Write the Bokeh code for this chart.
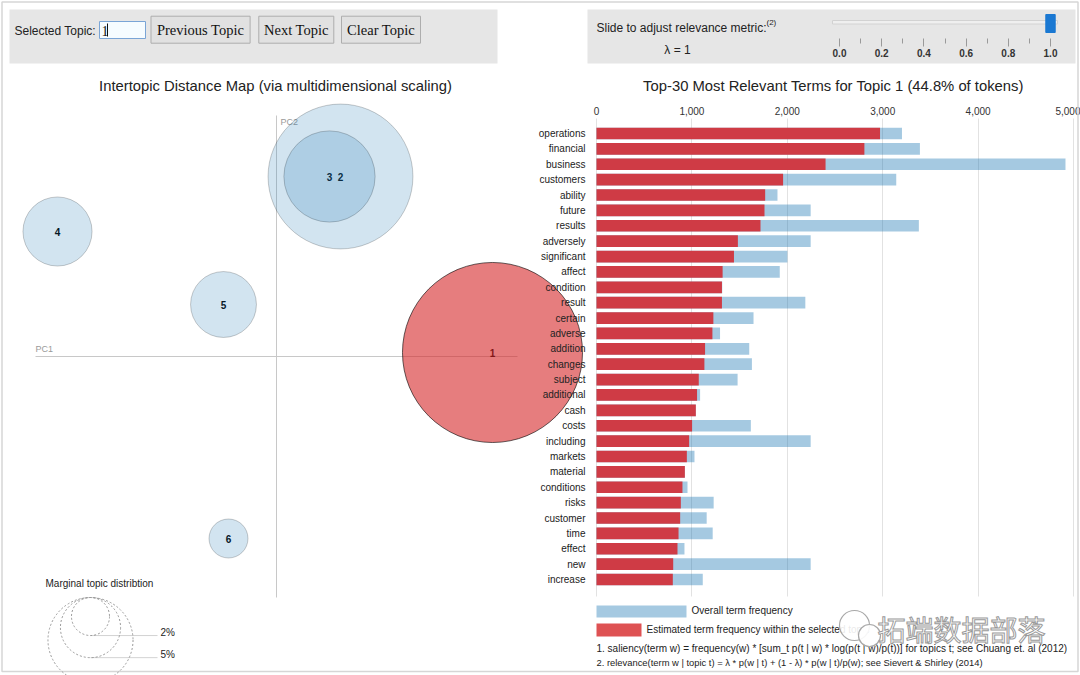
import math
from bokeh.plotting import figure
from bokeh.models import Range1d, LinearAxis, FixedTicker, NumeralTickFormatter
from bokeh.core.properties import value
from bokeh.embed import file_html
from bokeh.resources import INLINE

# ---------------- data ----------------
topic_ids = [1, 2, 3, 4, 5, 6]
topic_pc1 = [0.216, 0.064, 0.053, -0.219, -0.053, -0.048]
topic_pc2 = [0.004, 0.180, 0.180, 0.125, 0.052, -0.182]
topic_pct = [44.8, 29.0, 11.5, 6.6, 6.0, 2.1]          # marginal topic distribution (% of tokens)
selected_topic = 1
lambda_value = 1.0

terms = ["operations", "financial", "business", "customers", "ability", "future",
         "results", "adversely", "significant", "affect", "condition", "result",
         "certain", "adverse", "addition", "changes", "subject", "additional",
         "cash", "costs", "including", "markets", "material", "conditions",
         "risks", "customer", "time", "effect", "new", "increase"]
topic_term_freq = [2972, 2808, 2401, 1956, 1768, 1761, 1719, 1482, 1441, 1322,
                   1315, 1315, 1225, 1215, 1138, 1131, 1072, 1054, 1041, 1002,
                   971, 947, 926, 901, 884, 877, 860, 849, 804, 800]
overall_term_freq = [3202, 3390, 4916, 3142, 1897, 2245, 3379, 2245, 2001, 1921,
                     1318, 2189, 1646, 1295, 1601, 1629, 1479, 1086, 1041, 1618,
                     2245, 1027, 926, 954, 1228, 1155, 1218, 922, 2245, 1114]
freq_ticks = [0, 1000, 2000, 3000, 4000, 5000]
lambda_ticks = [0.0, 0.2, 0.4, 0.6, 0.8, 1.0]
lambda_minor_ticks = [0.1, 0.3, 0.5, 0.7, 0.9]
marginal_pcts = [2, 5, 10]

button_labels = ["Previous Topic", "Next Topic", "Clear Topic"]
footnotes = [
    "1. saliency(term w) = frequency(w) * [sum_t p(t | w) * log(p(t | w)/p(t))] for topics t; see Chuang et. al (2012)",
    "2. relevance(term w | topic t) = \u03bb * p(w | t) + (1 - \u03bb) * p(w | t)/p(w); see Sievert & Shirley (2014)",
]

# ---------------- layout constants ----------------
W, H = 1080, 675
SANS = value("Liberation Sans")
SERIF = value("Liberation Serif")

PX_PER_PC = 1000.0
ORIGIN_X, ORIGIN_Y = 276, 356          # page px of the PC origin
R_PER_SQRT_PCT = 0.01345               # circle radius scale (PC units per sqrt(%))
AXIS_HALF = 0.241

BAR_ZERO_PX = 596
BAR_PX_PER_UNIT = 0.0954
BAR_ROW1_PX = 133
BAR_STEP_PX = 15.38
BAR_HEIGHT = 0.76

LAM_ZERO_PX = 839
LAM_PX_PER_UNIT = 211.0

BLUE = "#1f77b4"
RED = "#d62728"

p = figure(width=W, height=H, output_backend="svg", toolbar_location=None,
           x_axis_location=None, y_axis_location=None,
           x_range=Range1d(-ORIGIN_X / PX_PER_PC, (W - ORIGIN_X) / PX_PER_PC),
           y_range=Range1d(-(H - ORIGIN_Y) / PX_PER_PC, ORIGIN_Y / PX_PER_PC),
           min_border=0, outline_line_color=None,
           background_fill_color="white", border_fill_color="white")
p.xgrid.visible = False
p.ygrid.visible = False

p.extra_x_ranges = {
    "page": Range1d(0, W),
    "bx": Range1d(-BAR_ZERO_PX / BAR_PX_PER_UNIT, (W - BAR_ZERO_PX) / BAR_PX_PER_UNIT),
    "lam": Range1d(-LAM_ZERO_PX / LAM_PX_PER_UNIT, (W - LAM_ZERO_PX) / LAM_PX_PER_UNIT),
}
p.extra_y_ranges = {
    "page": Range1d(H, 0),
    "by": Range1d(1 + (H - BAR_ROW1_PX) / BAR_STEP_PX, 1 - BAR_ROW1_PX / BAR_STEP_PX),
}
PAGE = dict(x_range_name="page", y_range_name="page")


def page_text(x, y, text, size, color="#222", font=SANS, align="left",
              baseline="middle", style="normal"):
    p.text(x=[x], y=[y], text=[text], text_font=font, text_font_size=size,
           text_color=color, text_align=align, text_baseline=baseline,
           text_font_style=style, **PAGE)


# ---------------- window frame + top control panels ----------------
p.quad(left=[1.5], right=[1077.5], top=[1.5], bottom=[671], fill_color=None,
       line_color="#d6d6d6", line_width=1.5, **PAGE)
p.quad(left=[9, 587], right=[497, 1075], top=[9, 9], bottom=[63, 63],
       fill_color="#e6e6e6", line_color=None, **PAGE)
page_text(14, 30, "Selected Topic:", "12px", color="#222")
p.quad(left=[99], right=[145], top=[21], bottom=[38], fill_color="#f6fcff",
       line_color="#7aa5d6", line_width=1, **PAGE)
page_text(101, 30, str(selected_topic), "14px", color="#111", font=SERIF)
p.segment(x0=[107], y0=[23], x1=[107], y1=[36], line_color="#111", line_width=1, **PAGE)

btn_left = [150.5, 258.3, 341.0]
btn_right = [249.6, 333.3, 420.0]
p.quad(left=btn_left, right=btn_right, top=[15.7] * 3, bottom=[42.7] * 3,
       fill_color="#e1e1e1", line_color="#adadad", line_width=1, **PAGE)
p.text(x=[(a + b) / 2 for a, b in zip(btn_left, btn_right)], y=[29.5] * 3,
       text=button_labels, text_font=SERIF, text_font_size="14.5px",
       text_color="#111", text_align="center", text_baseline="middle", **PAGE)

page_text(596, 27, "Slide to adjust relevance metric:", "12px", color="#222")
page_text(766, 22, "(2)", "8px", color="#222")
page_text(677, 49, "\u03bb = %g" % lambda_value, "12px", color="#222", align="center")

# slider track + handle + ticks
p.quad(left=[832], right=[1057], top=[20], bottom=[23.5], fill_color="#efefef",
       line_color="#d2d2d2", line_width=1, **PAGE)
p.quad(left=[lambda_value - 4.7 / LAM_PX_PER_UNIT], right=[lambda_value + 4.7 / LAM_PX_PER_UNIT],
       top=[14], bottom=[32], fill_color="#1a78d2", line_color="#1a78d2",
       x_range_name="lam", y_range_name="page")
lam_axis = LinearAxis(x_range_name="lam", y_range_name="page", fixed_location=38,
                      ticker=FixedTicker(ticks=lambda_ticks, minor_ticks=lambda_minor_ticks),
                      formatter=NumeralTickFormatter(format="0.0"),
                      axis_line_color=None, major_tick_in=0, major_tick_out=8,
                      minor_tick_in=0, minor_tick_out=5,
                      major_tick_line_color="#9a9a9a", minor_tick_line_color="#9a9a9a",
                      major_label_standoff=2, major_label_text_font_size="10px",
                      major_label_text_font=SANS.value, major_label_text_font_style="bold",
                      major_label_text_color="#333")
p.add_layout(lam_axis, "below")

# ---------------- titles ----------------
sel_idx = topic_ids.index(selected_topic)
page_text(275, 85, "Intertopic Distance Map (via multidimensional scaling)", "14.8px",
          color="#222", align="center")
page_text(833, 85, "Top-%d Most Relevant Terms for Topic %d (%.1f%% of tokens)"
          % (len(terms), selected_topic, topic_pct[sel_idx]), "14.8px",
          color="#222", align="center")

# ---------------- intertopic distance map ----------------
p.segment(x0=[-AXIS_HALF, 0], y0=[0, -AXIS_HALF], x1=[AXIS_HALF, 0], y1=[0, AXIS_HALF],
          line_color="#c8c8c8", line_width=1)
p.text(x=[-AXIS_HALF], y=[0], text=["PC1"], text_font=SANS, text_font_size="9px",
       text_color="#9a9a9a", text_align="left", text_baseline="bottom", y_offset=-3)
p.text(x=[0], y=[AXIS_HALF], text=["PC2"], text_font=SANS, text_font_size="9px",
       text_color="#9a9a9a", text_align="left", text_baseline="top", x_offset=4, y_offset=1)

# topic labels (drawn beneath the translucent circles)
p.text(x=topic_pc1, y=topic_pc2, text=[str(t) for t in topic_ids], text_font=SANS,
       text_font_size="10px", text_font_style="bold", text_color="#000",
       text_align="center", text_baseline="middle")

radii = [R_PER_SQRT_PCT * math.sqrt(v) for v in topic_pct]
colors = [RED if t == selected_topic else BLUE for t in topic_ids]
alphas = [0.6 if t == selected_topic else 0.2 for t in topic_ids]
order = [i for i in range(len(topic_ids)) if topic_ids[i] != selected_topic] + [sel_idx]
p.circle(x=[topic_pc1[i] for i in order], y=[topic_pc2[i] for i in order],
         radius=[radii[i] for i in order],
         fill_color=[colors[i] for i in order], fill_alpha=[alphas[i] for i in order],
         line_color="black", line_alpha=[alphas[i] for i in order], line_width=1)

# marginal topic distribution legend
LEG_CX, LEG_CX2 = -0.186, -0.119
leg_r = [R_PER_SQRT_PCT * math.sqrt(v) for v in marginal_pcts]
leg_top = -AXIS_HALF
leg_y = [leg_top - 2 * r for r in leg_r]
p.text(x=[-0.231], y=[-0.227], text=["Marginal topic distribtion"], text_font=SANS,
       text_font_size="10px", text_color="#222", text_align="left", text_baseline="middle")
p.circle(x=[LEG_CX] * len(leg_r), y=[leg_top - r for r in leg_r], radius=leg_r,
         fill_color=None, line_color="#999999", line_dash="2 2", line_width=1)
p.segment(x0=[LEG_CX] * len(leg_r), y0=leg_y, x1=[LEG_CX2] * len(leg_r), y1=leg_y,
          line_color="gray", line_alpha=0.35)
y_floor = p.y_range.start + 0.006
vis = [i for i, yy in enumerate(leg_y) if yy > y_floor]   # labels that fall inside the view
p.text(x=[LEG_CX2] * len(vis), y=[leg_y[i] for i in vis],
       text=["%d%%" % marginal_pcts[i] for i in vis], text_font=SANS, text_font_size="10px",
       text_color="#222", text_align="left", text_baseline="middle", x_offset=3, y_offset=-3)

# ---------------- bar chart ----------------
ranks = list(range(1, len(terms) + 1))
BARS = dict(x_range_name="bx", y_range_name="by")
top_axis = LinearAxis(fixed_location=0, ticker=FixedTicker(ticks=freq_ticks),
                      formatter=NumeralTickFormatter(format="0,0"),
                      axis_line_color=None, major_tick_out=0, major_tick_in=478,
                      major_tick_line_color="#e2e2e2", minor_tick_line_color=None,
                      major_label_standoff=3, major_label_text_font_size="10px",
                      major_label_text_font=SANS.value, major_label_text_color="#333",
                      **BARS)
top_axis.level = "underlay"
p.add_layout(top_axis, "above")

p.hbar(y=ranks, left=0, right=overall_term_freq, height=BAR_HEIGHT,
       fill_color=BLUE, fill_alpha=0.4, line_color=None, **BARS)
p.hbar(y=ranks, left=0, right=topic_term_freq, height=BAR_HEIGHT,
       fill_color="#cf3b45", fill_alpha=1.0, line_color=None, **BARS)

term_axis = LinearAxis(fixed_location=0, ticker=FixedTicker(ticks=ranks),
                       major_label_overrides={r: t for r, t in zip(ranks, terms)},
                       axis_line_color=None, major_tick_line_color=None,
                       minor_tick_line_color=None, major_label_standoff=5,
                       major_label_text_font_size="10px", major_label_text_font=SANS.value,
                       major_label_text_color="#222", **BARS)
p.add_layout(term_axis, "left")

# legend swatches + footnotes
p.quad(left=[596, 596], right=[686, 641], top=[605, 623], bottom=[617, 636],
       fill_color=[BLUE, RED], fill_alpha=[0.4, 0.8], line_color=None, **PAGE)
page_text(691, 610, "Overall term frequency", "10px", color="#222")
page_text(646, 629, "Estimated term frequency within the selected topic", "10px", color="#222")
page_text(596, 648, footnotes[0], "10px", color="#222")
page_text(596, 662, footnotes[1], "9.4px", color="#222")

# watermark
p.circle(x=[854, 869], y=[625, 635], radius=[15, 11], fill_color="white", fill_alpha=0.9,
         line_color="#a8a8a8", line_width=1.2, **PAGE)
p.text(x=[877], y=[628], text=["\u62d3\u7aef\u6570\u636e\u90e8\u843d"],
       text_font=value("Noto Sans CJK SC"), text_font_size="28px",
       text_color="white", text_outline_color="#9a9a9a", text_align="left",
       text_baseline="middle", **PAGE)

open("out.html", "w").write(file_html(p, INLINE, "LDAvis"))
